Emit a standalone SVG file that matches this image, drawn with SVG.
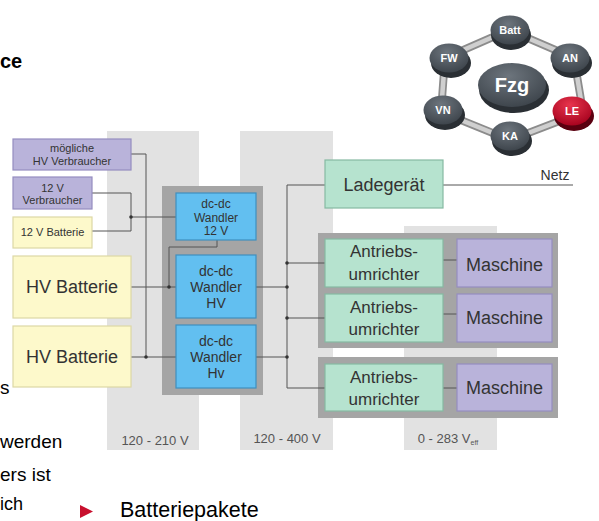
<svg xmlns="http://www.w3.org/2000/svg" width="599" height="521" viewBox="0 0 599 521">
<defs>
<style>
.band{fill:#e2e2e2}
.cont{fill:#a5a5a5}
.pur{fill:#b9b3da;stroke:#958dc0;stroke-width:1.2}
.yel{fill:#fdf9cb;stroke:#ddd8a6;stroke-width:1.2}
.blue{fill:#62bff0;stroke:#3f8fbf;stroke-width:1.2}
.grn{fill:#b6e3cf;stroke:#86b9a2;stroke-width:1.2}
.t{font-family:"Liberation Sans",Arial,sans-serif;fill:#333;text-anchor:middle}
.v{font-family:"Liberation Sans",Arial,sans-serif;fill:#555;font-size:13px;text-anchor:middle}
.body{font-family:"Liberation Sans",Arial,sans-serif;fill:#000}
.ln{fill:none;stroke:#555;stroke-width:1}
.dot{fill:#333}
.bl{font-family:"Liberation Sans",Arial,sans-serif;fill:#fff;font-weight:bold;text-anchor:middle}
</style>
<radialGradient id="btn" cx="45%" cy="30%" r="75%">
<stop offset="0" stop-color="#6d757d"/>
<stop offset="1" stop-color="#3b4249"/>
</radialGradient>
<radialGradient id="btnRed" cx="45%" cy="30%" r="75%">
<stop offset="0" stop-color="#e8354d"/>
<stop offset="1" stop-color="#a3001c"/>
</radialGradient>
</defs>
<rect width="599" height="521" fill="#fff"/>

<!-- body text -->
<g id="bodytext">
<text class="body" x="0" y="68" font-size="20" font-weight="bold">ce</text>
<text class="body" x="0" y="394" font-size="19">s</text>
<text class="body" x="0" y="448" font-size="19">werden</text>
<text class="body" x="0" y="481" font-size="19">ers ist</text>
<text class="body" x="0" y="510" font-size="18">ich</text>
<polygon points="80,505 80,518 93,511.5" fill="#c8102e"/>
<text class="body" x="120" y="517" font-size="21.5">Batteriepakete</text>
</g>

<!-- voltage bands -->
<g id="bands">
<rect class="band" x="107" y="131" width="92" height="319"/>
<rect class="band" x="240" y="131" width="93" height="319"/>
<rect class="band" x="404" y="226" width="93" height="224"/>
<text class="v" x="155" y="445">120 - 210 V</text>
<text class="v" x="287" y="443">120 - 400 V</text>
<text class="v" x="448" y="443">0 - 283 V<tspan font-size="7" dy="2">eff</tspan></text>
</g>

<!-- containers -->
<g id="containers">
<rect class="cont" x="162" y="186" width="101" height="209"/>
<rect class="cont" x="318" y="233" width="240" height="115"/>
<rect class="cont" x="318" y="357" width="240" height="61"/>
</g>

<!-- connectors -->
<g id="connectors">
<polyline class="ln" points="131,154 146,154 146,357"/>
<line class="ln" x1="131" y1="357" x2="176" y2="357"/>
<polyline class="ln" points="92,193 131,193 131,231 92,231"/>
<line class="ln" x1="131" y1="217" x2="176" y2="217"/>
<polyline class="ln" points="217,240 217,247 169,247 169,287"/>
<line class="ln" x1="131" y1="287" x2="176" y2="287"/>
<line class="ln" x1="256" y1="287" x2="287" y2="287"/>
<line class="ln" x1="256" y1="357" x2="287" y2="357"/>
<polyline class="ln" points="325,185 287,185 287,388 325,388"/>
<line class="ln" x1="287" y1="263" x2="325" y2="263"/>
<line class="ln" x1="287" y1="318" x2="325" y2="318"/>
<line class="ln" x1="443" y1="260" x2="457" y2="260"/>
<line class="ln" x1="443" y1="314" x2="457" y2="314"/>
<line class="ln" x1="443" y1="388" x2="457" y2="388"/>
<line class="ln" x1="443" y1="185" x2="573" y2="185"/>
<circle class="dot" cx="146" cy="357" r="1.8"/>
<circle class="dot" cx="131" cy="217" r="1.8"/>
<circle class="dot" cx="169" cy="287" r="1.8"/>
<circle class="dot" cx="287" cy="263" r="1.8"/>
<circle class="dot" cx="287" cy="287" r="1.8"/>
<circle class="dot" cx="287" cy="318" r="1.8"/>
<circle class="dot" cx="287" cy="357" r="1.8"/>
</g>

<!-- nodes -->
<g id="hv-verbraucher">
<rect class="pur" x="13" y="139" width="118" height="31"/>
<text class="t" x="72" y="152" font-size="11">mögliche</text>
<text class="t" x="72" y="165" font-size="11">HV Verbraucher</text>
</g>
<g id="v12-verbraucher">
<rect class="pur" x="13" y="177" width="79" height="32"/>
<text class="t" x="52.5" y="192" font-size="11">12 V</text>
<text class="t" x="52.5" y="204" font-size="11">Verbraucher</text>
</g>
<g id="v12-batterie">
<rect class="yel" x="13" y="217" width="79" height="31"/>
<text class="t" x="52.5" y="236" font-size="11">12 V Batterie</text>
</g>
<g id="hv-batterie-1">
<rect class="yel" x="13" y="256" width="118" height="62"/>
<text class="t" x="72" y="293" font-size="18">HV Batterie</text>
</g>
<g id="hv-batterie-2">
<rect class="yel" x="13" y="326" width="118" height="61"/>
<text class="t" x="72" y="363" font-size="18">HV Batterie</text>
</g>
<g id="wandler-12v">
<rect class="blue" x="176" y="193" width="80" height="47"/>
<text class="t" x="216" y="208" font-size="12">dc-dc</text>
<text class="t" x="216" y="222" font-size="12">Wandler</text>
<text class="t" x="216" y="235" font-size="12">12 V</text>
</g>
<g id="wandler-hv-1">
<rect class="blue" x="176" y="255" width="80" height="63"/>
<text class="t" x="216" y="276" font-size="14">dc-dc</text>
<text class="t" x="216" y="292" font-size="14">Wandler</text>
<text class="t" x="216" y="308" font-size="14">HV</text>
</g>
<g id="wandler-hv-2">
<rect class="blue" x="176" y="325" width="80" height="63"/>
<text class="t" x="216" y="346" font-size="14">dc-dc</text>
<text class="t" x="216" y="362" font-size="14">Wandler</text>
<text class="t" x="216" y="378" font-size="14">Hv</text>
</g>
<g id="ladegeraet">
<rect class="grn" x="325" y="160" width="118" height="48"/>
<text class="t" x="384" y="191" font-size="18">Ladegerät</text>
</g>
<g id="netz">
<text class="t" x="555" y="180" font-size="14">Netz</text>
</g>
<g id="umrichter-1">
<rect class="grn" x="325" y="239" width="118" height="48"/>
<text class="t" x="384" y="257" font-size="17">Antriebs-</text>
<text class="t" x="384" y="280" font-size="17">umrichter</text>
</g>
<g id="maschine-1">
<rect class="pur" x="457" y="239" width="95" height="48"/>
<text class="t" x="504.5" y="271" font-size="18">Maschine</text>
</g>
<g id="umrichter-2">
<rect class="grn" x="325" y="294" width="118" height="48"/>
<text class="t" x="384" y="313" font-size="17">Antriebs-</text>
<text class="t" x="384" y="335" font-size="17">umrichter</text>
</g>
<g id="maschine-2">
<rect class="pur" x="457" y="294" width="95" height="48"/>
<text class="t" x="504.5" y="324" font-size="18">Maschine</text>
</g>
<g id="umrichter-3">
<rect class="grn" x="325" y="364" width="118" height="47"/>
<text class="t" x="384" y="383" font-size="17">Antriebs-</text>
<text class="t" x="384" y="405" font-size="17">umrichter</text>
</g>
<g id="maschine-3">
<rect class="pur" x="457" y="364" width="95" height="47"/>
<text class="t" x="504.5" y="394" font-size="18">Maschine</text>
</g>

<!-- network ring diagram -->
<g id="ring">
<polygon points="509,30 574,58 583,112 510,140 441,112 445,58" fill="none" stroke="#8c8c8c" stroke-width="8" stroke-linejoin="round"/>
<polygon points="509,30 574,58 583,112 510,140 441,112 445,58" fill="none" stroke="#cfcfcf" stroke-width="4.5" stroke-linejoin="round"/>
</g>
<g id="btn-fzg">
<ellipse cx="514" cy="90" rx="35" ry="23" fill="#2a2f34"/>
<ellipse cx="512" cy="85" rx="34" ry="22" fill="url(#btn)"/>
<text class="bl" x="512" y="92" font-size="20" font-weight="normal" fill="#eee">Fzg</text>
</g>
<g id="btn-batt">
<ellipse cx="511" cy="35" rx="20" ry="15" fill="#2a2f34"/>
<ellipse cx="510" cy="30" rx="19.5" ry="14.5" fill="url(#btn)"/>
<text class="bl" x="510" y="34" font-size="11">Batt</text>
</g>
<g id="btn-fw">
<ellipse cx="451" cy="63" rx="20" ry="15" fill="#2a2f34"/>
<ellipse cx="449" cy="58" rx="19.5" ry="14.5" fill="url(#btn)"/>
<text class="bl" x="449" y="62" font-size="11">FW</text>
</g>
<g id="btn-an">
<ellipse cx="572" cy="63" rx="20" ry="15" fill="#2a2f34"/>
<ellipse cx="570" cy="58" rx="19.5" ry="14.5" fill="url(#btn)"/>
<text class="bl" x="570" y="62" font-size="11">AN</text>
</g>
<g id="btn-vn">
<ellipse cx="445" cy="115" rx="20" ry="15" fill="#2a2f34"/>
<ellipse cx="443" cy="110" rx="19.5" ry="14.5" fill="url(#btn)"/>
<text class="bl" x="443" y="114" font-size="11">VN</text>
</g>
<g id="btn-le">
<ellipse cx="574" cy="116" rx="20" ry="15" fill="#5a0010"/>
<ellipse cx="572" cy="111" rx="19.5" ry="14.5" fill="url(#btnRed)"/>
<text class="bl" x="572" y="115" font-size="11">LE</text>
</g>
<g id="btn-ka">
<ellipse cx="512" cy="141" rx="20" ry="15" fill="#2a2f34"/>
<ellipse cx="510" cy="136" rx="19.5" ry="14.5" fill="url(#btn)"/>
<text class="bl" x="510" y="140" font-size="11">KA</text>
</g>
</svg>
